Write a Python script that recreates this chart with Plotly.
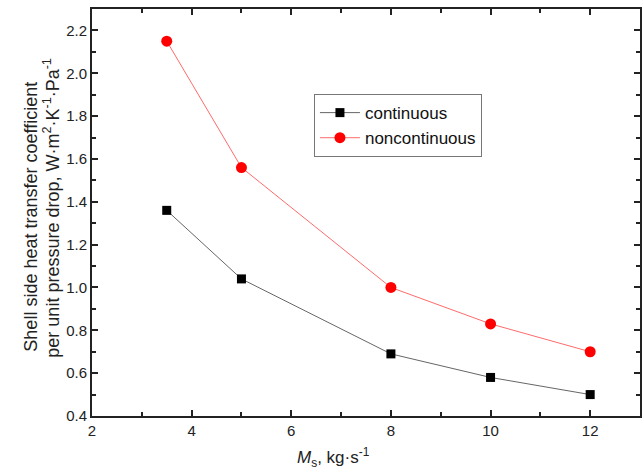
import plotly.graph_objects as go

# Mass flow rate on the shell side, kg/s
ms = [3.5, 5, 8, 10, 12]
# Heat transfer coefficient per unit pressure drop
continuous = [1.36, 1.04, 0.69, 0.58, 0.50]
noncontinuous = [2.15, 1.56, 1.00, 0.83, 0.70]

x_ticks = [2, 4, 6, 8, 10, 12]
y_ticks = [0.4, 0.6, 0.8, 1.0, 1.2, 1.4, 1.6, 1.8, 2.0, 2.2]

y_title_lines = [
    "Shell side heat transfer coefficient",
    "per unit pressure drop, W·m<sup>2</sup>·K<sup>-1</sup>·Pa<sup>-1</sup>",
]
x_title = "<i>M</i><sub>s</sub>, kg·s<sup>-1</sup>"

FONT = "Liberation Sans, Arial"
INK = "#222222"

fig = go.Figure()
fig.add_trace(go.Scatter(
    x=ms, y=continuous, name="continuous", mode="lines+markers",
    line=dict(color="#666666", width=1),
    marker=dict(symbol="square", size=9, color="black"),
))
fig.add_trace(go.Scatter(
    x=ms, y=noncontinuous, name="noncontinuous", mode="lines+markers",
    line=dict(color="#ff6b6b", width=1),
    marker=dict(symbol="circle", size=11, color="#ff0000"),
))

axis_common = dict(
    showline=True, linecolor=INK, linewidth=2, mirror="allticks",
    ticks="inside", ticklen=6, tickwidth=1.5, tickcolor=INK,
    showgrid=False, zeroline=False,
    tickfont=dict(family=FONT, size=15, color=INK),
)

fig.update_xaxes(
    range=[2, 13], tickvals=x_ticks,
    minor=dict(dtick=1, ticks="inside", ticklen=4, tickwidth=1.5, tickcolor=INK),
    **axis_common,
)
fig.update_yaxes(
    range=[0.4, 2.3], tickvals=y_ticks, tickformat=".1f",
    minor=dict(dtick=0.1, ticks="inside", ticklen=4, tickwidth=1.5, tickcolor=INK),
    **axis_common,
)

# Axis titles as annotations for tighter line spacing and placement
title_font = dict(family=FONT, size=18, color=INK)
fig.add_annotation(text=y_title_lines[0], xref="paper", yref="paper",
                   x=-0.113, y=0.49, xanchor="center", yanchor="middle",
                   textangle=-90, showarrow=False, font=title_font)
fig.add_annotation(text=y_title_lines[1], xref="paper", yref="paper",
                   x=-0.074, y=0.513, xanchor="center", yanchor="middle",
                   textangle=-90, showarrow=False, font=title_font)
fig.add_annotation(text=x_title, xref="paper", yref="paper",
                   x=0.441, y=-0.066, xanchor="center", yanchor="top",
                   showarrow=False, font=dict(family=FONT, size=17, color=INK))

fig.update_layout(
    width=644, height=473,
    margin=dict(l=92, r=2, t=9, b=57),
    paper_bgcolor="white", plot_bgcolor="white",
    legend=dict(
        x=0.405, y=0.791, xanchor="left", yanchor="top",
        bgcolor="white", bordercolor="#777777", borderwidth=1,
        font=dict(family=FONT, size=17, color="#111111"),
        tracegroupgap=0, itemwidth=40,
    ),
)

fig.write_html("out.html")
